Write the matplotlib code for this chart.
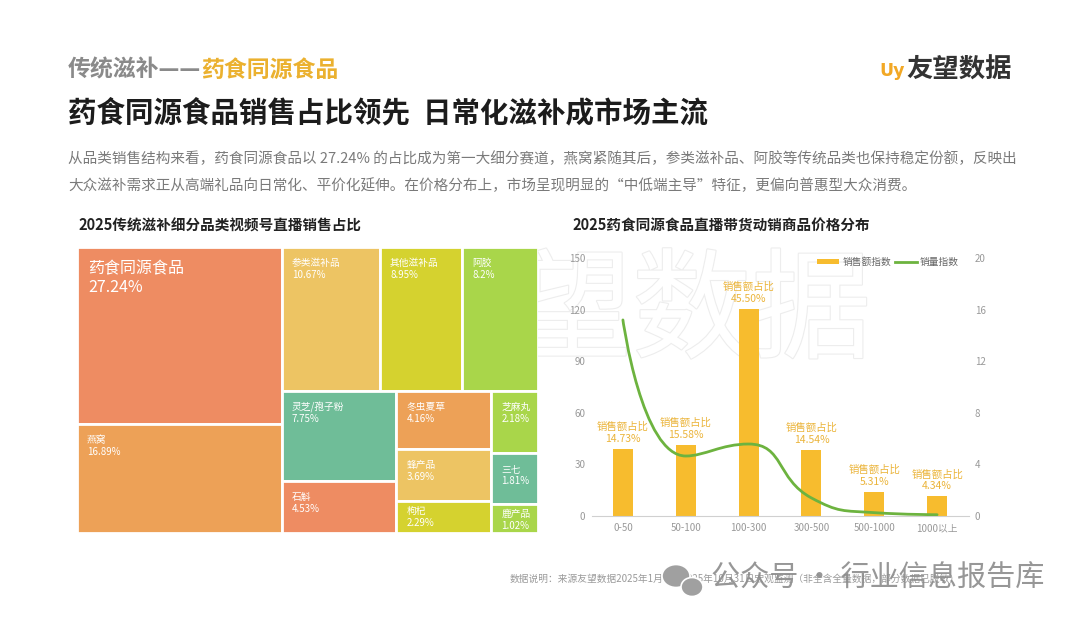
import numpy as np
import matplotlib
matplotlib.use('Agg')
import matplotlib.pyplot as plt
from matplotlib.patches import Rectangle, PathPatch, Ellipse
from matplotlib.path import Path
from matplotlib.lines import Line2D
import matplotlib.patheffects as pe

plt.rcParams['font.family'] = ['Noto Sans CJK SC', 'DejaVu Sans']

# ---------------- data ----------------
tm_labels = ['药食同源食品', '燕窝', '参类滋补品', '其他滋补品', '阿胶', '灵芝/孢子粉', '石斛',
             '冬虫夏草', '蜂产品', '枸杞', '芝麻丸', '三七', '鹿产品']
tm_values = [27.24, 16.89, 10.67, 8.95, 8.2, 7.75, 4.53, 4.16, 3.69, 2.29, 2.18, 1.81, 1.02]
tm_colors = ['#EE8C62', '#EDA157', '#EDC463', '#D5D22F', '#A9D64A', '#6FBD98', '#EE8C62',
             '#EDA157', '#EDC463', '#D5D22F', '#A9D64A', '#6FBD98', '#A9D64A']

price_bins = ['0-50', '50-100', '100-300', '300-500', '500-1000', '1000以上']
sales_index = [39.0, 41.2, 120.3, 38.5, 14.0, 11.5]
volume_index = [15.2, 4.65, 5.58, 1.4, 0.26, 0.1]
sales_share = [14.73, 15.58, 45.50, 14.54, 5.31, 4.34]
left_ticks = [0, 30, 60, 90, 120, 150]
right_ticks = [0, 4, 8, 12, 16, 20]

W_PX, H_PX = 1080, 623
fig = plt.figure(figsize=(10.8, 6.23), dpi=100)
fig.patch.set_facecolor('white')


def fx(px):
    return px / W_PX


def fy(py):
    return 1 - py / H_PX


# ---------------- header ----------------
t1 = fig.text(fx(68), fy(70), '传统滋补——', fontsize=16.5, fontweight='bold',
              color='#8a8a8a', va='center', ha='left')
fig.canvas.draw()
r = fig.canvas.get_renderer()
bb = t1.get_window_extent(r)
fig.text(bb.x1 / W_PX, fy(70), '药食同源食品', fontsize=16.5, fontweight='bold',
         color='#EBB12F', va='center', ha='left')

fig.text(fx(879), fy(71), 'Uy', fontsize=12.5, fontweight='bold', color='#F2A825',
         va='center', ha='left', family='DejaVu Sans')
fig.text(fx(906), fy(70), '友望数据', fontsize=19, fontweight='bold', color='#333333',
         va='center', ha='left')

fig.text(fx(68), fy(113), '药食同源食品销售占比领先  日常化滋补成市场主流', fontsize=20.5,
         fontweight='bold', color='#1c1c1c', va='center', ha='left')

para1 = ('从品类销售结构来看，药食同源食品以 27.24% 的占比成为第一大细分赛道，燕窝紧随其后，'
         '参类滋补品、阿胶等传统品类也保持稳定份额，反映出')
para2 = '大众滋补需求正从高端礼品向日常化、平价化延伸。在价格分布上，市场呈现明显的“中低端主导”特征，更偏向普惠型大众消费。'
fig.text(fx(68), fy(159), para1, fontsize=10.5, color='#7a7a7a', va='center', ha='left')
fig.text(fx(68), fy(186), para2, fontsize=10.5, color='#7a7a7a', va='center', ha='left')

fig.text(fx(78), fy(226), '2025传统滋补细分品类视频号直播销售占比', fontsize=10.5,
         fontweight='bold', color='#222222', va='center', ha='left')
fig.text(fx(572), fy(226), '2025药食同源食品直播带货动销商品价格分布', fontsize=10.5,
         fontweight='bold', color='#222222', va='center', ha='left')


# ---------------- treemap ----------------
def squarify(values, W, H, ratio=1.8):
    total = float(sum(values))
    areas = [v * W * H / total for v in values]
    rect = [0.0, 0.0, W, H]  # x, y(top-down), w, h
    out = [None] * len(values)

    def worst(row, L):
        s = sum(areas[j] for j in row)
        amax = max(areas[j] for j in row)
        amin = min(areas[j] for j in row)
        f = L * L * ratio
        return max(f * amax / (s * s), (s * s) / (f * amin))

    def position(row):
        s = sum(areas[j] for j in row)
        x, y, w, h = rect
        if w <= h:  # horizontal strip on top
            t = s / w
            cx = x
            for j in row:
                lw = areas[j] / t
                out[j] = (cx, y, lw, t)
                cx += lw
            rect[1] += t
            rect[3] -= t
        else:  # vertical strip on the left
            t = s / h
            cy = y
            for j in row:
                lh = areas[j] / t
                out[j] = (x, cy, t, lh)
                cy += lh
            rect[0] += t
            rect[2] -= t

    row = []
    score = np.inf
    i = 0
    while i < len(areas):
        L = min(rect[2], rect[3])
        row.append(i)
        sc = worst(row, L)
        if sc <= score:
            score = sc
            i += 1
        else:
            row.pop()
            position(row)
            row = []
            score = np.inf
    if row:
        position(row)
    return out


TW, TH = 462.0, 284.0
axt = fig.add_axes([fx(77), fy(533), fx(461), 286 / H_PX])
axt.set_zorder(2)
axt.set_xlim(0, TW)
axt.set_ylim(TH, 0)
axt.axis('off')
cells = squarify(tm_values, TW, TH)
for k, ((x, y, w, h), lab, val, col) in enumerate(zip(cells, tm_labels, tm_values, tm_colors)):
    axt.add_patch(Rectangle((x, y), w, h, facecolor=col, edgecolor='white', linewidth=2.0))
    if k == 0:
        fs, dx, d1, d2 = 11.5, 8, -15.5, -29.5
    else:
        top_px = min(16.0, h * 0.33)
        fs, dx = 7, 7.2
        d1 = -top_px * 0.72
        d2 = -(top_px + 12) * 0.72
    axt.annotate(lab, (x, y), xytext=(dx, d1), textcoords='offset points',
                 fontsize=fs, color='white', va='center', ha='left')
    axt.annotate(f'{val}%', (x, y), xytext=(dx, d2), textcoords='offset points',
                 fontsize=fs, color='white', va='center', ha='left')

# ---------------- bar + line chart ----------------
ax = fig.add_axes([fx(591.5), fy(516), 377 / W_PX, 258 / H_PX])
ax.set_zorder(1)
xs = np.arange(len(price_bins))
bar_color = '#F7BC2E'
ax.bar(xs, sales_index, width=0.32, color=bar_color, zorder=2)
ax.set_xlim(-0.5, len(price_bins) - 0.5)
ax.set_ylim(0, 150)
ax.set_yticks(left_ticks)
ax.set_xticks(xs)
ax.set_xticklabels(price_bins)
for s in ['top', 'left', 'right']:
    ax.spines[s].set_visible(False)
ax.spines['bottom'].set_color('#d0d0d0')
ax.spines['bottom'].set_linewidth(0.8)
ax.tick_params(axis='both', length=0, labelsize=7, labelcolor='#999999')
ax.tick_params(axis='y', pad=4.5)
ax.tick_params(axis='x', pad=5)
ax.patch.set_alpha(0)

# faint watermark sitting beneath the chart content
ax.text(fx(692), fy(315), '望数据', transform=fig.transFigure, fontsize=86, color='white',
        ha='center', va='center', zorder=0.5, clip_on=False,
        path_effects=[pe.withStroke(linewidth=1.6, foreground='#ededed')])

for xi, v, p in zip(xs, sales_index, sales_share):
    ax.annotate(f'销售额占比\n{p:.2f}%', (xi, v), xytext=(0, 3.5), textcoords='offset points',
                ha='center', va='bottom', fontsize=7.5, color='#EBB43A', linespacing=1.25,
                zorder=3)

ax2 = ax.twinx()
ax2.set_ylim(0, 20)
ax2.set_yticks(right_ticks)
for s in ['top', 'left', 'right', 'bottom']:
    ax2.spines[s].set_visible(False)
ax2.tick_params(axis='y', length=0, labelsize=7, labelcolor='#999999', pad=4.5)

# ECharts-style smooth bezier through the data points (computed in pixel space)
sx, sy = 377 / len(price_bins), 258 / 20.0
P = [(xi * sx, yi * sy) for xi, yi in zip(xs, volume_index)]
smooth = 0.5
verts = [P[0]]
codes = [Path.MOVETO]
cp0 = P[0]
n = len(P)
for i in range(1, n):
    x, y = P[i]
    px_, py_ = P[i - 1]
    if i == n - 1:
        cp1 = (x, y)
        ncp0 = None
    else:
        nx_, ny_ = P[i + 1]
        vx, vy = nx_ - px_, ny_ - py_
        lp = np.hypot(x - px_, y - py_)
        ln = np.hypot(nx_ - x, ny_ - y)
        rn = ln / (ln + lp)
        ncx = x + vx * smooth * rn
        ncy = y + vy * smooth * rn
        ncx = min(ncx, max(nx_, x)); ncy = min(ncy, max(ny_, y))
        ncx = max(ncx, min(nx_, x)); ncy = max(ncy, min(ny_, y))
        vx, vy = ncx - x, ncy - y
        c1x = x - vx * lp / ln
        c1y = y - vy * lp / ln
        c1x = min(c1x, max(px_, x)); c1y = min(c1y, max(py_, y))
        c1x = max(c1x, min(px_, x)); c1y = max(c1y, min(py_, y))
        vx, vy = x - c1x, y - c1y
        ncp0 = (x + vx * ln / lp, y + vy * ln / lp)
        cp1 = (c1x, c1y)
    verts += [cp0, cp1, (x, y)]
    codes += [Path.CURVE4] * 3
    cp0 = ncp0
verts_data = [(vx_ / sx, vy_ / sy) for vx_, vy_ in verts]
line_color = '#6DB33F'
ax2.add_patch(PathPatch(Path(verts_data, codes), facecolor='none', edgecolor=line_color,
                        linewidth=2.0, zorder=3, capstyle='round'))

handles = [Rectangle((0, 0), 1, 1, facecolor=bar_color, edgecolor='none'),
           Line2D([0], [0], color=line_color, linewidth=2)]
leg = ax2.legend(handles, ['销售额指数', '销量指数'], ncol=2, frameon=False, fontsize=7,
                 loc='center right', bbox_to_anchor=(0.975, 0.985), handlelength=2.3,
                 handleheight=0.55, handletextpad=0.3, columnspacing=0.4, borderpad=0,
                 borderaxespad=0, labelcolor='#666666')

# ---------------- footer ----------------
fig.text(fx(510), fy(579), '数据说明：来源友望数据2025年1月1日-2025年10月31日宏观监测（非全含全量数据，部分数据已脱敏）',
         fontsize=7, color='#9a9a9a', va='center', ha='left')
fig.patches.append(Ellipse((fx(676), fy(576)), 28 / W_PX, 23 / H_PX, transform=fig.transFigure,
                           facecolor='#a0a0a0', edgecolor='white', linewidth=1.2, zorder=11))
fig.patches.append(Ellipse((fx(692), fy(587)), 22 / W_PX, 19 / H_PX, transform=fig.transFigure,
                           facecolor='#a0a0a0', edgecolor='white', linewidth=1.2, zorder=12))
fig.text(fx(711), fy(579), '公众号 · 行业信息报告库', fontsize=21, color='#8c8c8c', alpha=0.9,
         va='center', ha='left', zorder=12)

fig.savefig('out.png', dpi=100, facecolor='white')
